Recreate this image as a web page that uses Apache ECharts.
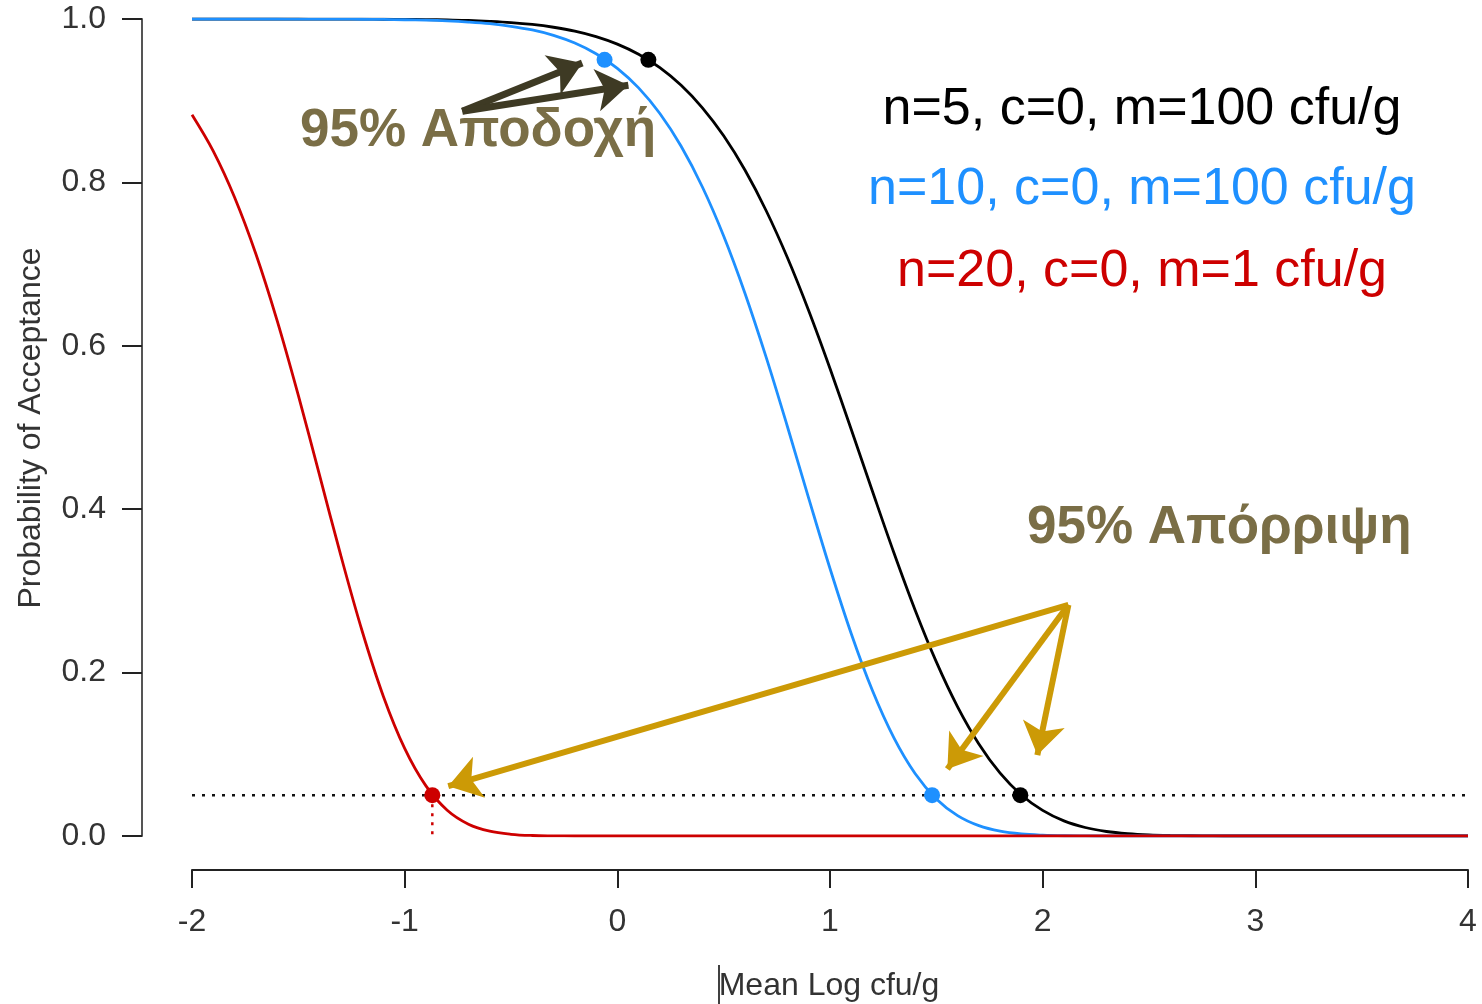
<!DOCTYPE html>
<html>
<head>
<meta charset="utf-8">
<script src="https://cdn.jsdelivr.net/npm/echarts@6/dist/echarts.min.js"></script>
<style>
html, body { margin: 0; padding: 0; background: #fff; }
#main { width: 1482px; height: 1004px; }
</style>
</head>
<body>
<div id="main"></div>
<script>
// mean log cfu/g grid
var xs = [-2.0, -1.9, -1.8, -1.7, -1.6, -1.5, -1.4, -1.3, -1.2, -1.1,
  -1.0, -0.9, -0.8, -0.7, -0.6, -0.5, -0.4, -0.3, -0.2, -0.1,
  0.0, 0.1, 0.2, 0.3, 0.4, 0.5, 0.6, 0.7, 0.8, 0.9,
  1.0, 1.1, 1.2, 1.3, 1.4, 1.5, 1.6, 1.7, 1.8, 1.9,
  2.0, 2.1, 2.2, 2.3, 2.4, 2.5, 2.6, 2.7, 2.8, 2.9,
  3.0, 3.1, 3.2, 3.3, 3.4, 3.5, 3.6, 3.7, 3.8, 3.9, 4.0];

// n=5, c=0, m=100 cfu/g
var paN5 = [1.0000, 1.0000, 1.0000, 1.0000, 1.0000, 1.0000, 0.9999, 0.9999, 0.9998, 0.9997,
  0.9996, 0.9993, 0.9988, 0.9982, 0.9971, 0.9956, 0.9933, 0.9899, 0.9852, 0.9785,
  0.9693, 0.9569, 0.9404, 0.9188, 0.8913, 0.8570, 0.8151, 0.7653, 0.7077, 0.6429,
  0.5722, 0.4976, 0.4216, 0.3470, 0.2767, 0.2131, 0.1581, 0.1127, 0.0769, 0.0502,
  0.0313, 0.0185, 0.0104, 0.0055, 0.0028, 0.0013, 0.0006, 0.0003, 0.0001, 0,
  0, 0, 0, 0, 0, 0, 0, 0, 0, 0, 0];

// n=10, c=0, m=100 cfu/g
var paN10 = [1.0000, 1.0000, 1.0000, 1.0000, 1.0000, 0.9999, 0.9999, 0.9998, 0.9997, 0.9995,
  0.9991, 0.9986, 0.9977, 0.9963, 0.9943, 0.9911, 0.9866, 0.9800, 0.9706, 0.9575,
  0.9396, 0.9157, 0.8843, 0.8442, 0.7944, 0.7344, 0.6644, 0.5858, 0.5009, 0.4133,
  0.3274, 0.2476, 0.1777, 0.1204, 0.0765, 0.0454, 0.0250, 0.0127, 0.0059, 0.0025,
  0.0010, 0.0003, 0.0001, 0, 0, 0, 0, 0, 0, 0,
  0, 0, 0, 0, 0, 0, 0, 0, 0, 0, 0];

// n=20, c=0, m=1 cfu/g
var paN20 = [0.8829, 0.8384, 0.7819, 0.7127, 0.6312, 0.5394, 0.4415, 0.3431, 0.2509, 0.1708,
  0.1072, 0.0613, 0.0316, 0.0145, 0.0059, 0.0021, 0.0006, 0.0002, 0, 0,
  0, 0, 0, 0, 0, 0, 0, 0, 0, 0,
  0, 0, 0, 0, 0, 0, 0, 0, 0, 0,
  0, 0, 0, 0, 0, 0, 0, 0, 0, 0,
  0, 0, 0, 0, 0, 0, 0, 0, 0, 0, 0];

// 95% acceptance / 95% rejection points
var ptsN5 = [[0.146, 0.95], [1.895, 0.05]];
var ptsN10 = [[-0.06, 0.95], [1.48, 0.05]];
var ptsN20 = [[-0.87, 0.05]];

var refLevel = 0.05;
var xTicks = [-2, -1, 0, 1, 2, 3, 4];
var yTicks = [0, 0.2, 0.4, 0.6, 0.8, 1.0];

var font = '"Liberation Sans", Arial, sans-serif';
var cBlack = '#000000', cBlue = '#1e90ff', cRed = '#cd0000';
var cOlive = '#7a6e46', cOliveDark = '#3e3a24', cGold = '#cc9a06';

function pairs(x, y) {
  return x.map(function (v, i) { return [v, y[i]]; });
}

var chart = echarts.init(document.getElementById('main'));

function curve(name, vals, color) {
  return {
    name: name,
    type: 'line',
    data: pairs(xs, vals),
    showSymbol: false,
    smooth: 0.35,
    lineStyle: { color: color, width: 2.8 },
    silent: true
  };
}

function dots(pts, color) {
  return {
    type: 'scatter',
    data: pts,
    symbolSize: 16,
    itemStyle: { color: color, opacity: 1 },
    z: 5,
    silent: true
  };
}

chart.setOption({
  animation: false,
  grid: { left: 192, right: 14, top: 19, bottom: 168 },
  xAxis: {
    type: 'value',
    min: xTicks[0], max: xTicks[xTicks.length - 1], interval: 1,
    offset: 34,
    axisLine: { onZero: false, lineStyle: { color: '#222', width: 2 } },
    axisTick: { length: 18, lineStyle: { color: '#222', width: 2 } },
    axisLabel: { fontSize: 32, color: '#333', fontFamily: font, margin: 36 },
    splitLine: { show: false }
  },
  yAxis: {
    type: 'value',
    min: yTicks[0], max: yTicks[yTicks.length - 1], interval: 0.2,
    offset: 50,
    axisLine: { show: true, onZero: false, lineStyle: { color: '#555', width: 2 } },
    axisTick: { show: true, length: 20, lineStyle: { color: '#222', width: 2 } },
    axisLabel: {
      fontSize: 32, color: '#333', fontFamily: font, margin: 36,
      formatter: function (v) { return v.toFixed(1); }
    },
    splitLine: { show: false }
  },
  series: [
    curve('n=5, c=0, m=100 cfu/g', paN5, cBlack),
    curve('n=10, c=0, m=100 cfu/g', paN10, cBlue),
    curve('n=20, c=0, m=1 cfu/g', paN20, cRed),
    {
      type: 'line',
      data: [[xTicks[0], refLevel], [xTicks[xTicks.length - 1], refLevel]],
      showSymbol: false,
      lineStyle: { color: '#111', width: 2.5, type: [3, 7] },
      silent: true,
      markLine: {
        silent: true,
        symbol: ['none', 'arrow'],
        symbolSize: 32,
        label: { show: false },
        emphasis: { disabled: true },
        data: [
          [{ coord: [-0.729, 0.887], lineStyle: { color: cOliveDark, width: 7, type: 'solid' } },
           { coord: [-0.165, 0.946], itemStyle: { color: cOliveDark } }],
          [{ coord: [-0.729, 0.887], lineStyle: { color: cOliveDark, width: 7, type: 'solid' } },
           { coord: [0.052, 0.919], itemStyle: { color: cOliveDark } }],
          [{ coord: [2.121, 0.283], lineStyle: { color: cGold, width: 6, type: 'solid' } },
           { coord: [-0.795, 0.061], itemStyle: { color: cGold } }],
          [{ coord: [2.121, 0.283], lineStyle: { color: cGold, width: 6, type: 'solid' } },
           { coord: [1.552, 0.082], itemStyle: { color: cGold } }],
          [{ coord: [2.121, 0.283], lineStyle: { color: cGold, width: 6, type: 'solid' } },
           { coord: [1.975, 0.099], itemStyle: { color: cGold } }]
        ]
      }
    },
    {
      type: 'line',
      data: [[ptsN20[0][0], refLevel], [ptsN20[0][0], 0]],
      showSymbol: false,
      lineStyle: { color: cRed, width: 2.5, type: [3, 6] },
      silent: true
    },
    dots(ptsN5, cBlack),
    dots(ptsN10, cBlue),
    dots(ptsN20, cRed)
  ],
  graphic: [
    { type: 'text', x: 300, y: 131, style: { text: '95% Αποδοχή', font: 'bold 53px ' + font, fill: cOlive, align: 'left', verticalAlign: 'middle' } },
    { type: 'text', x: 1027, y: 528, style: { text: '95% Απόρριψη', font: 'bold 53px ' + font, fill: cOlive, align: 'left', verticalAlign: 'middle' } },
    { type: 'text', x: 1142, y: 110, style: { text: 'n=5, c=0, m=100 cfu/g', font: '52px ' + font, fill: cBlack, align: 'center', verticalAlign: 'middle' } },
    { type: 'text', x: 1142, y: 190, style: { text: 'n=10, c=0, m=100 cfu/g', font: '52px ' + font, fill: cBlue, align: 'center', verticalAlign: 'middle' } },
    { type: 'text', x: 1142, y: 272, style: { text: 'n=20, c=0, m=1 cfu/g', font: '52px ' + font, fill: cRed, align: 'center', verticalAlign: 'middle' } },
    { type: 'text', x: 31, y: 428, rotation: Math.PI / 2, style: { text: 'Probability of Acceptance', font: '32px ' + font, fill: '#333', align: 'center', verticalAlign: 'middle' } },
    { type: 'text', x: 829, y: 986, style: { text: 'Mean Log cfu/g', font: '32px ' + font, fill: '#333', align: 'center', verticalAlign: 'middle' } },
    { type: 'line', shape: { x1: 719, y1: 965, x2: 719, y2: 1004 }, style: { stroke: '#000', lineWidth: 1.5 } }
  ]
});
</script>
</body>
</html>
